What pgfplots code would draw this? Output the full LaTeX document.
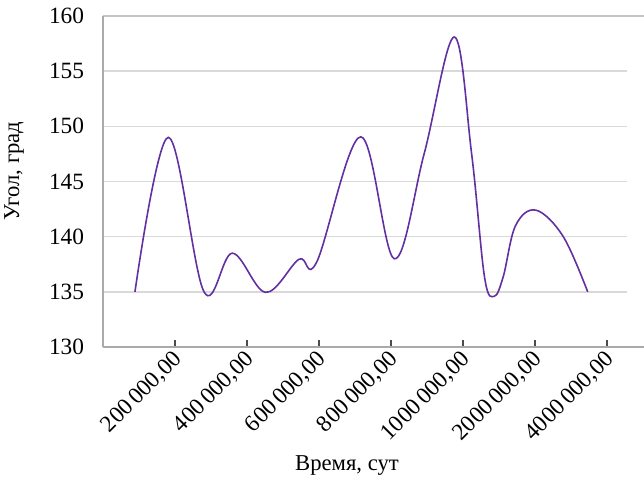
\documentclass[border=0pt]{standalone}
\usepackage{fontspec}
\setmainfont{Liberation Serif}
\usepackage{pgfplots}
\pgfplotsset{compat=1.18}
\definecolor{linecol}{RGB}{98,48,160}
\definecolor{gridcol}{RGB}{217,217,217}
\definecolor{axcol}{RGB}{170,170,170}
\begin{document}
\begin{tikzpicture}
\begin{axis}[
  name=ax,
  scale only axis,
  width=405.75pt, height=248.25pt,
  xmin=0, xmax=7.514, ymin=130, ymax=160,
  clip=false,
  axis line style={draw=none},
  xtick pos=bottom, ytick pos=left,
  tick align=inside,
  major tick length=5.5pt,
  tick style={draw=black!70, line width=0.8pt},
  xtick={1,2,3,4,5,6,7},
  xticklabels={{200\,000,00},{400\,000,00},{600\,000,00},{800\,000,00},{1000\,000,00},{2000\,000,00},{4000\,000,00}},
  ytick={130,135,140,145,150,155,160},
  /pgf/number format/assume math mode=true,
  tick label style={font=\fontsize{17.5}{20}\selectfont},
  xticklabel style={xshift=-2.5pt, rotate=45, anchor=north east, inner sep=1pt},
  yticklabel style={anchor=east, inner sep=0pt, xshift=-14pt},
  label style={font=\fontsize{17}{20}\selectfont},
  xlabel={Время, сут},
  ylabel={Угол, град},
  xlabel style={at={(rel axis cs:0.451,0)}, anchor=center, yshift=-89.25pt},
  ylabel style={at={(rel axis cs:0,0.532)}, anchor=center, yshift=66.75pt},
]
\draw[gridcol, line width=1.1pt] (axis cs:0,135) -- (axis cs:7.278,135);
\draw[gridcol, line width=1.1pt] (axis cs:0,140) -- (axis cs:7.278,140);
\draw[gridcol, line width=1.1pt] (axis cs:0,145) -- (axis cs:7.278,145);
\draw[gridcol, line width=1.1pt] (axis cs:0,150) -- (axis cs:7.278,150);
\draw[gridcol, line width=1.1pt] (axis cs:0,155) -- (axis cs:7.278,155);
\draw[axcol!70, line width=1.1pt] (axis cs:0,160) -- (axis cs:7.514,160);
\draw[axcol, line width=1.1pt] (axis cs:0,130) -- (axis cs:7.514,130);
\draw[axcol, line width=1.1pt] (axis cs:0,130) -- (axis cs:0,160);
\addplot[linecol, line width=1.2pt, smooth, tension=0.6, no markers] coordinates {
  (0.444,135.0)
  (0.907,149.0)
  (1.403,135.0)
  (1.796,138.5)
  (2.260,134.95)
  (2.722,137.95)
  (2.968,137.7)
  (3.579,149.05)
  (4.046,138.0)
  (4.46,147.5)
  (4.879,158.1)
  (5.12,147.5)
  (5.30,136.3)
  (5.435,134.6)
  (5.56,136.4)
  (5.73,141.0)
  (6.014,142.4)
  (6.393,140.0)
  (6.732,135.0)
};
\end{axis}
\pgfresetboundingbox
\useasboundingbox (ax.south west) ++(-77.25pt,-102.75pt) rectangle ++(483pt,363pt);
\end{tikzpicture}
\end{document}
